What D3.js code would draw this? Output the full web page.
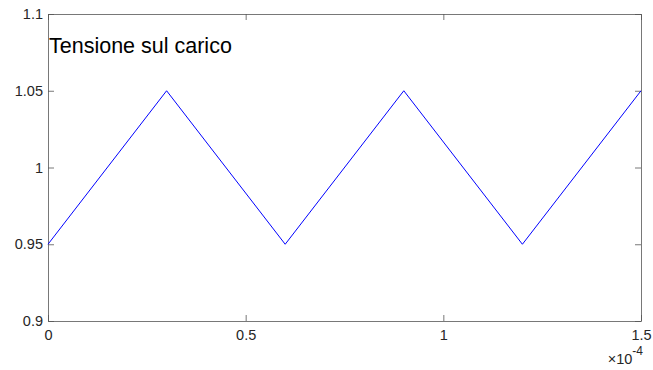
<!DOCTYPE html>
<html>
<head>
<meta charset="utf-8">
<script src="https://cdn.jsdelivr.net/npm/d3@7"></script>
<style>
  body { margin: 0; background: #fff; }
  svg { display: block; font-family: "Liberation Sans", Arial, sans-serif; }
</style>
</head>
<body>
<svg id="chart" width="653" height="370"></svg>
<script>
// triangle wave, x in units of 1e-4 s
const timeValues = [0, 0.3, 0.6, 0.9, 1.2, 1.5]
const voltageValues = [0.95, 1.05, 0.95, 1.05, 0.95, 1.05]
const xTicks = [0, 0.5, 1, 1.5]
const yTicks = [0.9, 0.95, 1, 1.05, 1.1]
const TITLE = "Tensione sul carico"

const margin = {top: 14, right: 12, bottom: 49, left: 48}
const width = 653 - margin.left - margin.right
const height = 370 - margin.top - margin.bottom
const axisColor = "#262626"
const tickFont = "14.5px"

const svg = d3.select("#chart")
const g = svg.append("g").attr("transform", `translate(${margin.left},${margin.top})`)

const xScale = d3.scaleLinear().domain([0, 1.5]).range([0, width])
const yScale = d3.scaleLinear().domain([0.9, 1.1]).range([height, 0])

const fmt = d => String(d)

// bottom axis
const xAxis = g.append("g")
    .attr("transform", `translate(0,${height})`)
    .call(d3.axisBottom(xScale).tickValues(xTicks).tickFormat(fmt).tickSizeInner(-6).tickSizeOuter(0).tickPadding(9))
// top axis (ticks only)
const xAxisTop = g.append("g")
    .call(d3.axisTop(xScale).tickValues(xTicks).tickFormat("").tickSizeInner(-6).tickSizeOuter(0))
// left axis
const yAxis = g.append("g")
    .call(d3.axisLeft(yScale).tickValues(yTicks).tickFormat(fmt).tickSizeInner(-6).tickSizeOuter(0).tickPadding(5))
// right axis (ticks only)
const yAxisRight = g.append("g")
    .attr("transform", `translate(${width},0)`)
    .call(d3.axisRight(yScale).tickValues(yTicks).tickFormat("").tickSizeInner(-6).tickSizeOuter(0))

;[xAxis, xAxisTop, yAxis, yAxisRight].forEach(a => {
    a.selectAll("path, line").attr("stroke", "#555").attr("stroke-width", 0.8)
    a.selectAll("text").attr("fill", axisColor).style("font-size", tickFont)
})

// exponent label
const expLabel = svg.append("text")
    .attr("x", 643)
    .attr("y", 364)
    .attr("text-anchor", "end")
    .attr("fill", axisColor)
    .style("font-size", tickFont)
expLabel.append("tspan").text("\u00d710")
expLabel.append("tspan").attr("dy", -9).style("font-size", "12px").text("-4")

// data line
const data = timeValues.map((t, i) => ({x: t, y: voltageValues[i]}))
const line = d3.line().x(d => xScale(d.x)).y(d => yScale(d.y))
g.append("path")
    .datum(data)
    .attr("d", line)
    .attr("fill", "none")
    .attr("stroke", "#0000ff")
    .attr("stroke-width", 1)

// title inside the plot
g.append("text")
    .attr("x", 1)
    .attr("y", 39)
    .attr("fill", "#000")
    .style("font-size", "21.5px")
    .text(TITLE)
</script>
</body>
</html>
